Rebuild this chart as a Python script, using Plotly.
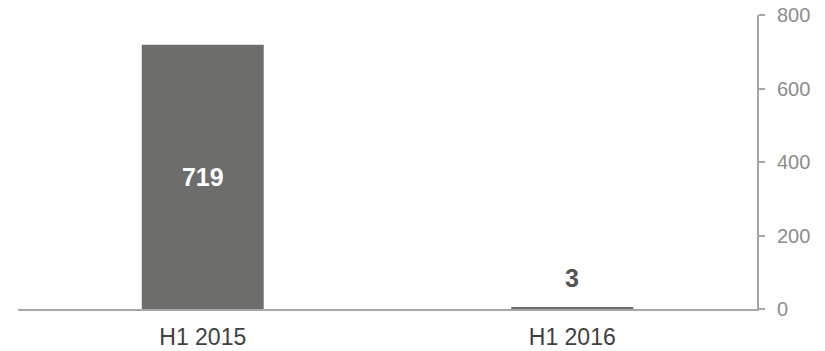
import plotly.graph_objects as go

categories = ["H1 2015", "H1 2016"]
values = [719, 3]
labels = ["719", "3"]
tick_vals = [0, 200, 400, 600, 800]

fig = go.Figure()
fig.add_trace(go.Bar(
    x=categories, y=values,
    marker=dict(color="#6d6d6b", line=dict(width=0)),
    width=0.33,
    text=[labels[0], ""],
    textposition="inside",
    insidetextanchor="middle",
    textfont=dict(family="Liberation Sans, Arial", size=25, color="white"),
    texttemplate="<b>%{text}</b>",
    hoverinfo="skip",
))
fig.add_annotation(
    x=categories[1], y=values[1], text="<b>" + labels[1] + "</b>",
    showarrow=False, yanchor="bottom", yshift=14,
    font=dict(family="Liberation Sans, Arial", size=25, color="#555555"),
)
fig.update_layout(
    width=825, height=351,
    margin=dict(l=18, r=68, t=15, b=42),
    paper_bgcolor="white", plot_bgcolor="white",
    showlegend=False,
    bargap=0.67,
    font=dict(family="Liberation Sans, Arial"),
)
fig.update_xaxes(
    showline=True, linecolor="#a6a6a6", linewidth=2,
    showgrid=False, ticks="",
    tickfont=dict(size=23, color="#404040"),
    ticklabelstandoff=6,
    automargin=False,
)
fig.update_yaxes(
    side="right", range=[0, 800], tickvals=tick_vals,
    showline=True, linecolor="#a6a6a6", linewidth=2,
    ticks="outside", ticklen=6, tickcolor="#a6a6a6", tickwidth=1.5,
    showgrid=False, zeroline=False,
    tickfont=dict(size=20, color="#8c8c8c"),
    ticklabelstandoff=8,
    automargin=False,
)
fig.write_html("out.html")
